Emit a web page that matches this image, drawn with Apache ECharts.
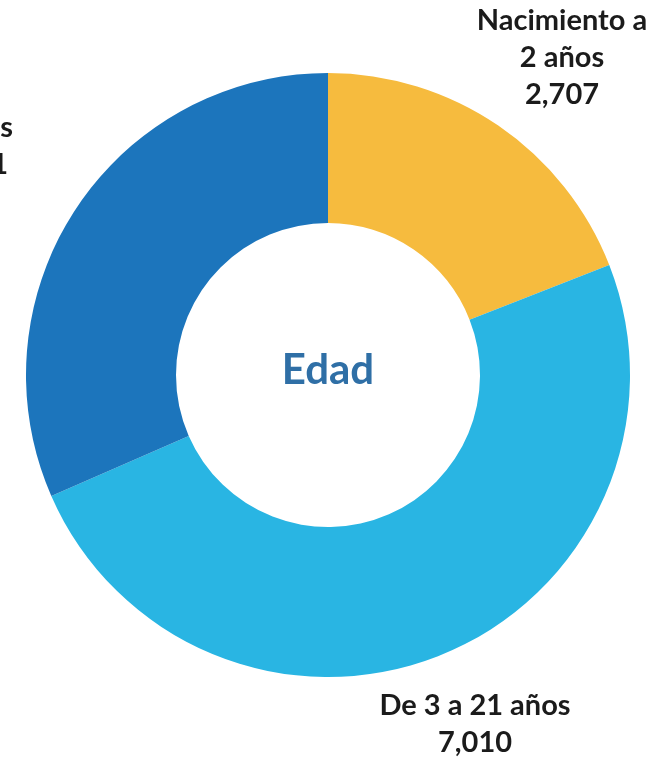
<!DOCTYPE html>
<html>
<head>
<meta charset="utf-8">
<style>html,body{margin:0;padding:0;background:#fff}#c{width:664px;height:761px}</style>
<script src="https://cdn.jsdelivr.net/npm/echarts@6/dist/echarts.min.js"></script>
</head>
<body>
<div id="c"></div>
<script>
const categories = ["Nacimiento a\n2 años", "De 3 a 21 años", "22 años o más"];
const values = [2707, 7010, 4481];
const colors = ["#F6BB3E", "#29B5E3", "#1C75BC"];
const centerTitle = "Edad";

const labelPos = [
  {x: 562, y: 58, align: 'center'},
  {x: 475, y: 724, align: 'center'},
  {x: 13, y: 146, align: 'right'}
];

const fmt = v => v.toLocaleString('en-US');
const chart = echarts.init(document.getElementById('c'));
const txt = {fontFamily: 'Lato', fontWeight: 'bold', fontSize: 29, lineHeight: 37, color: '#1b1b1b'};
chart.setOption({
  animation: false,
  graphic: [{
    type: 'text', x: 328, y: 370,
    style: {text: centerTitle, align: 'center', verticalAlign: 'middle',
      font: 'bold 42px Lato', fill: '#2F6FA6'}
  }],
  series: [{
    type: 'pie',
    center: [328, 375],
    radius: [152, 302],
    startAngle: 90,
    clockwise: true,
    avoidLabelOverlap: false,
    labelLine: {show: false},
    emphasis: {disabled: true},
    data: categories.map((n, i) => ({name: n, value: values[i], itemStyle: {color: colors[i]}})),
    label: Object.assign({
      show: true,
      position: 'outside',
      formatter: p => p.dataIndex === 2 ? '{a|' + p.name + '}\n{b|' + fmt(p.value) + '}' : p.name + '\n' + fmt(p.value),
      textAlign: 'center',
      rich: {
        a: Object.assign({}, txt),
        b: Object.assign({padding: [0, 5, 0, 0]}, txt)
      }
    }, txt),
    labelLayout: params => {
      const p = labelPos[params.dataIndex];
      return {x: p.x, y: p.y, align: p.align, verticalAlign: 'middle'};
    }
  }]
});
</script>
</body>
</html>
